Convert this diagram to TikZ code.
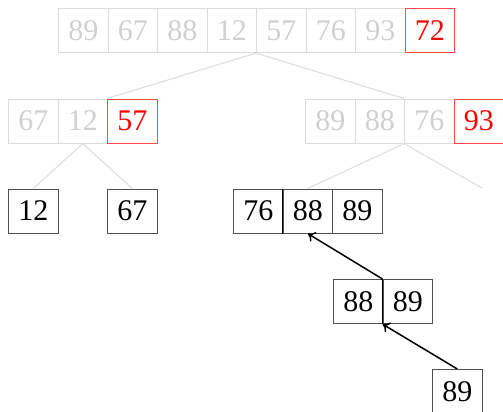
\documentclass[tikz,border=0pt]{standalone}
\usepackage{fontspec}
\setmainfont{Liberation Serif}
\usetikzlibrary{arrows.meta}
\definecolor{lightgr}{HTML}{DCDCDC}
\definecolor{txtgr}{HTML}{D0D0D0}
\definecolor{boxgr}{HTML}{505050}
\definecolor{pivred}{HTML}{FF4A4A}
\tikzset{
  cell/.style={rectangle, anchor=north west, inner sep=0pt, minimum width=49.5pt, minimum height=44pt,
    font=\fontsize{30}{35}\selectfont, line width=1.1pt},
  faded/.style={cell, draw=lightgr, text=txtgr},
  pivot/.style={cell, draw=pivred, text=red},
  done/.style={cell, draw=boxgr, text=black},
  tree/.style={draw=lightgr, line width=1pt},
  divider/.style={draw=black, line width=1.6pt},
  mergearrow/.style={draw=black, line width=1.5pt, -{To[length=7pt,width=11pt]}}
}
\begin{document}
\begin{tikzpicture}[x=1pt,y=-1pt]
\useasboundingbox (0,0) rectangle (503,412);
% row 1
\node[faded] (t1) at (58,8) {89};
\node[faded] (t2) at (107.5,8) {67};
\node[faded] (t3) at (157,8) {88};
\node[faded] (t4) at (206.5,8) {12};
\node[faded] (t5) at (256,8) {57};
\node[faded] (t6) at (305.5,8) {76};
\node[faded] (t7) at (355,8) {93};
\node[pivot] (t8) at (404.5,8) {72};
% row 2 left
\node[faded] (l1) at (8,98.5) {67};
\node[faded] (l2) at (57.5,98.5) {12};
\node[pivot] (l3) at (107,98.5) {57};
% row 2 right
\node[faded] (r1) at (305,98.5) {89};
\node[faded] (r2) at (354.5,98.5) {88};
\node[faded] (r3) at (404,98.5) {76};
\node[pivot] (r4) at (453.5,98.5) {93};
% tree lines
\draw[tree] (t5.south west) -- (l3.north west);
\draw[tree] (t5.south west) -- (r3.north west);
\coordinate (emptyright) at (482,188);
% row 3
\node[done] (a1) at (8,188.5) {12};
\node[done] (b1) at (107,188.5) {67};
\node[done] (c1) at (233,188.5) {76};
\node[done] (c2) at (282.5,188.5) {88};
\node[done] (c3) at (332,188.5) {89};
\draw[tree] (l2.south) -- (a1.north);
\draw[tree] (l2.south) -- (b1.north);
\draw[tree] (r3.south west) -- (c2.north);
\draw[tree] (r3.south west) -- (emptyright);
\draw[divider] (c2.north west) -- (c2.south west);
% row 4
\node[done] (d1) at (333,279) {88};
\node[done] (d2) at (382.5,279) {89};
\draw[divider] (d2.north west) -- (d2.south west);
% row 5
\node[done] (e1) at (432,369) {89};
% arrows
\draw[mergearrow] (e1.north) -- (d2.south west);
\draw[mergearrow] (d2.north west) -- (c2.south);
\end{tikzpicture}
\end{document}
